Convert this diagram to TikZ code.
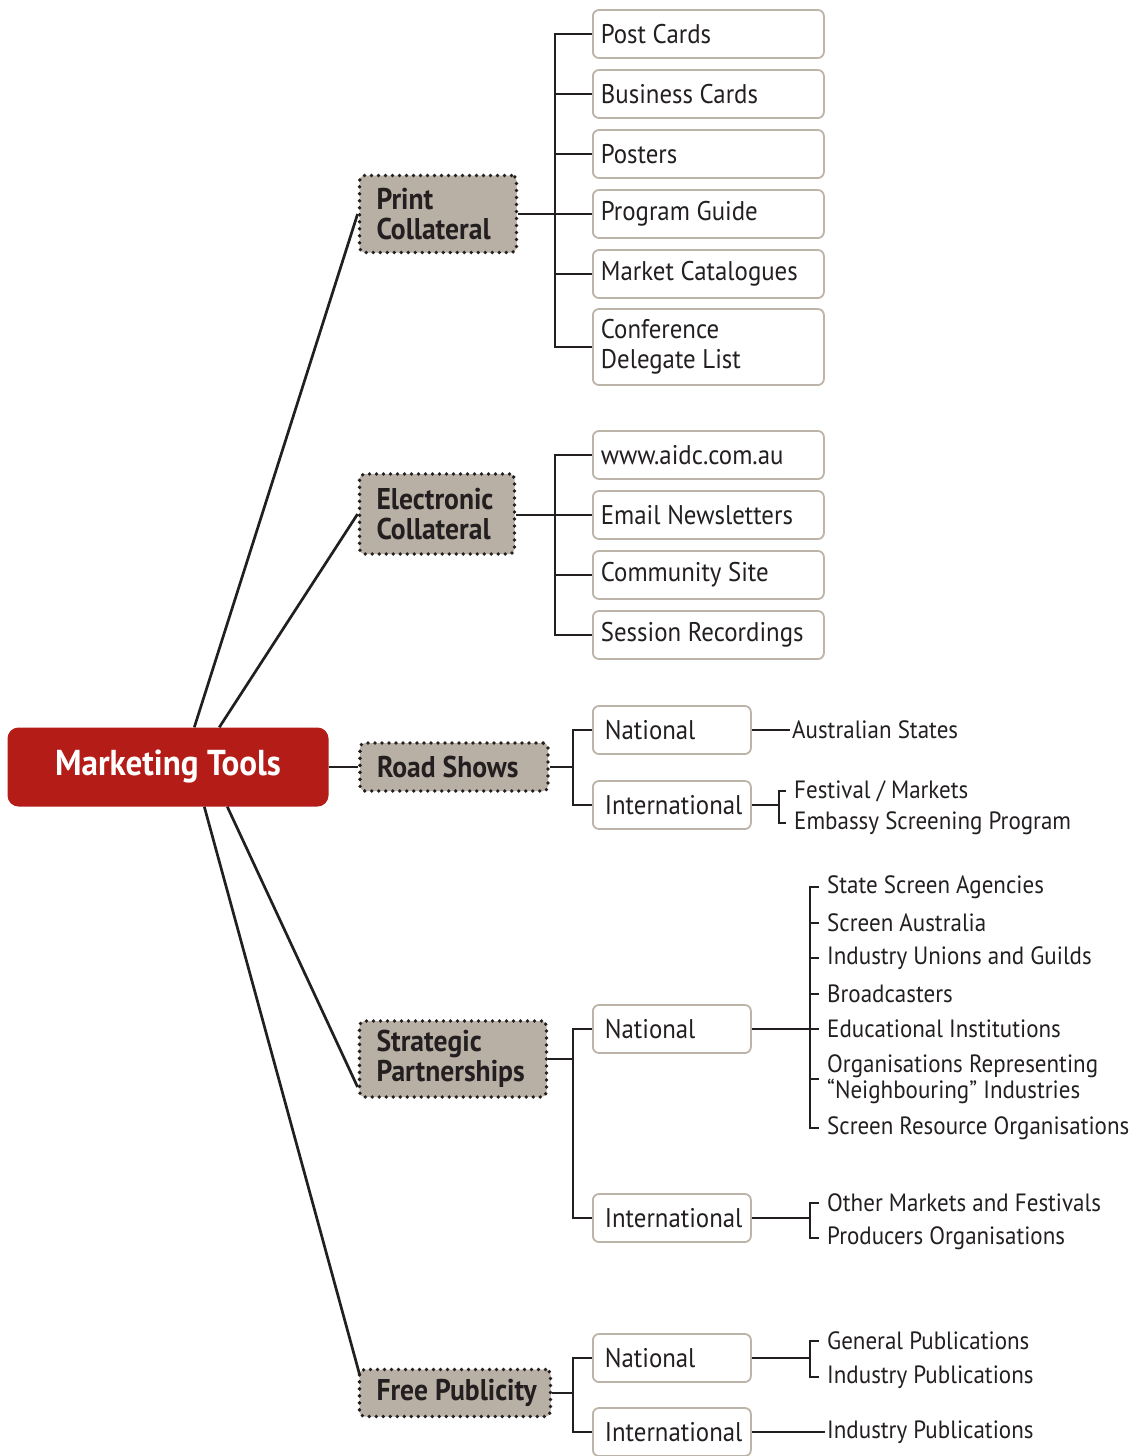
\documentclass[tikz,border=0pt]{standalone}
\usepackage{fontspec}
\setmainfont{PT Sans}[FakeStretch=0.92]
\usetikzlibrary{calc}

\definecolor{mtred}{HTML}{B31C17}
\definecolor{mttan}{HTML}{B9B0A5}
\definecolor{mtedge}{HTML}{BDB4A9}
\definecolor{mtink}{HTML}{231F20}

\tikzset{
  rootbox/.style={rectangle, rounded corners=11pt, fill=mtred, text=white,
    font=\fontsize{36}{40}\selectfont\bfseries, minimum width=321pt, minimum height=79pt},
  catbox/.style={rectangle, rounded corners=5pt, fill=mttan, text=mtink,
    draw=mtink, line width=3.8pt, dash pattern=on 0pt off 7pt, line cap=round,
    font=\fontsize{30}{30}\selectfont\bfseries, align=flush left, inner xsep=17pt, inner ysep=0pt},
  leafbox/.style={rectangle, rounded corners=6pt, fill=white, draw=mtedge, line width=1.8pt,
    text=mtink, font=\fontsize{27}{30}\selectfont, align=flush left, anchor=west,
    minimum height=48pt, inner xsep=8pt, inner ysep=0pt},
  itemtxt/.style={anchor=west, text=mtink, font=\fontsize{25}{26}\selectfont,
    align=flush left, inner xsep=8pt, inner ysep=0pt},
  link/.style={draw=mtink, line width=2.7pt},
}

\begin{document}
\begin{tikzpicture}[x=1pt, y=-1pt]
  \useasboundingbox (0,0) rectangle (1131,1456);

  % 中心节点
  \node[rootbox] (root) at (168,767) {Marketing Tools\hspace{16pt}};

  % 分类节点
  \node[catbox, minimum width=157pt, minimum height=77pt, text width=123pt] (print) at (438,214) {Print\\Collateral};
  \node[catbox, minimum width=155pt, minimum height=80pt, text width=121pt] (elec) at (437,514) {Electronic\\Collateral};
  \node[catbox, minimum width=188pt, minimum height=48pt, text width=154pt] (road) at (454,767) {\mbox{Road Shows}};
  \node[catbox, minimum width=187pt, minimum height=76pt, text width=153pt] (strat) at (453,1059) {Strategic\\Partnerships};
  \node[catbox, minimum width=191pt, minimum height=47pt, text width=157pt] (free) at (455,1393) {\mbox{Free Publicity}};

  % 中心到分类的连线
  \coordinate (rA) at ($(root.north west)+(187,0)$);
  \coordinate (rB) at ($(root.north west)+(212,0)$);
  \coordinate (rC) at ($(root.south west)+(220,0)$);
  \coordinate (rD) at ($(root.south west)+(197,0)$);
  \draw[link] (rA) -- (print.west);
  \draw[link] (rB) -- (elec.west);
  \draw[link] (root.east) -- (road.west);
  \draw[link] (rC) -- ($(strat.west)+(0,28)$);
  \draw[link] (rD) -- ($(free.north west)+(2,7)$);

  % Print Collateral
  \coordinate (px) at (555,0);
  \node[leafbox, minimum width=231pt, text width=215pt] (p1) at (592,34) {Post Cards};
  \node[leafbox, minimum width=231pt, text width=215pt] (p2) at (592,94) {Business Cards};
  \node[leafbox, minimum width=231pt, text width=215pt] (p3) at (592,154) {Posters};
  \node[leafbox, minimum width=231pt, text width=215pt] (p4) at (592,214) {Program Guide};
  \node[leafbox, minimum width=231pt, text width=215pt] (p5) at (592,274) {Market Catalogues};
  \node[leafbox, minimum width=231pt, text width=215pt, minimum height=76pt] (p6) at (592,347) {Conference\\Delegate List};
  \draw[link] (print.east) -- (p4.west);
  \draw[link] (p1.west) -- (p1.west -| px) -- (p6.west -| px) -- (p6.west);
  \foreach \n in {p2,p3,p5} \draw[link] (\n.west) -- (\n.west -| px);

  % Electronic Collateral
  \node[leafbox, minimum width=231pt, text width=215pt] (e1) at (592,455) {www.aidc.com.au};
  \node[leafbox, minimum width=231pt, text width=215pt] (e2) at (592,515) {Email Newsletters};
  \node[leafbox, minimum width=231pt, text width=215pt] (e3) at (592,575) {Community Site};
  \node[leafbox, minimum width=231pt, text width=215pt] (e4) at (592,635) {Session Recordings};
  \draw[link] (elec.east |- e2.west) -- (e2.west);
  \draw[link] (e1.west) -- (e1.west -| px) -- (e4.west -| px) -- (e4.west);
  \draw[link] (e3.west) -- (e3.west -| px);

  % Road Shows
  \coordinate (sx) at (573,0);
  \node[leafbox, minimum width=158pt, text width=134pt, inner xsep=12pt] (rN) at (592,730) {National};
  \node[leafbox, minimum width=158pt, text width=134pt, inner xsep=12pt] (rI) at (592,805) {International};
  \draw[link] (road.east) -- (road.east -| sx);
  \draw[link] (rN.west) -- (rN.west -| sx) -- (rI.west -| sx) -- (rI.west);
  \node[itemtxt, inner xsep=2pt] (rN1) at (790,730) {Australian States};
  \draw[link] (rN.east) -- (rN1.west);
  \coordinate (rx) at (779,0);
  \node[itemtxt] (rI1) at (786,791) {Festival / Markets};
  \node[itemtxt] (rI2) at (786,823) {Embassy Screening Program};
  \draw[link] (rI.east) -- (rI.east -| rx);
  \draw[link] (rI1.west) -- (rI1.west -| rx) -- (rI2.west -| rx) -- (rI2.west);

  % Strategic Partnerships
  \node[leafbox, minimum width=158pt, text width=134pt, inner xsep=12pt] (sN) at (592,1029) {National};
  \node[leafbox, minimum width=158pt, text width=134pt, inner xsep=12pt] (sI) at (592,1218) {International};
  \draw[link] (strat.east) -- (strat.east -| sx);
  \draw[link] (sN.west) -- (sN.west -| sx) -- (sI.west -| sx) -- (sI.west);
  \coordinate (tx) at (810,0);
  \node[itemtxt] (s1) at (819,887) {State Screen Agencies};
  \node[itemtxt] (s2) at (819,923) {Screen Australia};
  \node[itemtxt] (s3) at (819,958) {Industry Unions and Guilds};
  \node[itemtxt] (s4) at (819,994) {Broadcasters};
  \node[itemtxt] (s5) at (819,1029) {Educational Institutions};
  \node[itemtxt] (s6) at (819,1079) {Organisations Representing\\“Neighbouring” Industries};
  \node[itemtxt] (s7) at (819,1128) {Screen Resource Organisations};
  \draw[link] (sN.east) -- (sN.east -| tx);
  \draw[link] (s1.west) -- (s1.west -| tx) -- (s7.west -| tx) -- (s7.west);
  \foreach \n in {s2,s3,s4,s5,s6} \draw[link] (\n.west) -- (\n.west -| tx);
  \node[itemtxt] (s8) at (819,1203) {Other Markets and Festivals};
  \node[itemtxt] (s9) at (819,1238) {Producers Organisations};
  \draw[link] (sI.east) -- (sI.east -| tx);
  \draw[link] (s8.west) -- (s8.west -| tx) -- (s9.west -| tx) -- (s9.west);

  % Free Publicity
  \node[leafbox, minimum width=158pt, text width=134pt, inner xsep=12pt] (fN) at (592,1358) {National};
  \node[leafbox, minimum width=158pt, text width=134pt, inner xsep=12pt] (fI) at (592,1432) {International};
  \draw[link] (free.east) -- (free.east -| sx);
  \draw[link] (fN.west) -- (fN.west -| sx) -- (fI.west -| sx) -- (fI.west);
  \node[itemtxt] (f1) at (819,1341) {General Publications};
  \node[itemtxt] (f2) at (819,1377) {Industry Publications};
  \draw[link] (fN.east) -- (fN.east -| tx);
  \draw[link] (f1.west) -- (f1.west -| tx) -- (f2.west -| tx) -- (f2.west);
  \node[itemtxt, inner xsep=2pt] (f3) at (825,1432) {Industry Publications};
  \draw[link] (fI.east) -- (f3.west);
\end{tikzpicture}
\end{document}
